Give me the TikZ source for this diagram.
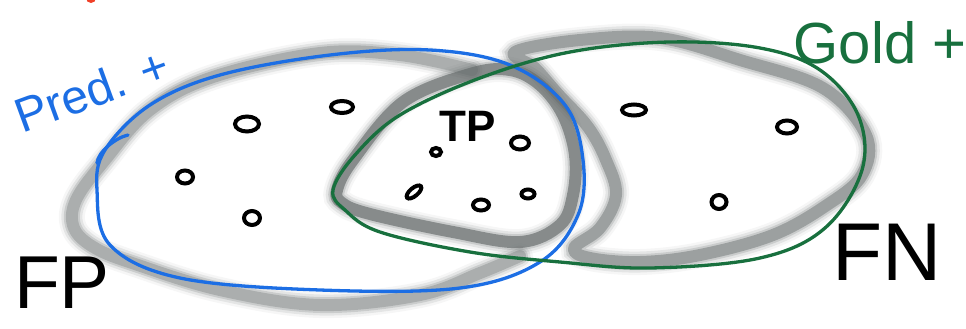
\documentclass[tikz,border=0pt]{standalone}
\usepackage{fontspec}
\setmainfont{Liberation Sans}
\usetikzlibrary{shapes.geometric}
\definecolor{predblue}{RGB}{28,110,228}
\definecolor{goldgreen}{RGB}{24,112,62}
\definecolor{smudgegray}{RGB}{100,106,106}
\definecolor{redmark}{RGB}{240,64,40}
\tikzset{
  smudge/.style={draw=smudgegray, line width=12pt, draw opacity=.45, line cap=round, line join=round,
    preaction={draw=smudgegray, line width=16pt, draw opacity=.2, line cap=round},
    preaction={draw=smudgegray, line width=21pt, draw opacity=.12, line cap=round},
    preaction={draw=smudgegray, line width=26pt, draw opacity=.06, line cap=round}},
  darksmudge/.style={smudge, draw opacity=.66},
  lightsmudge/.style={smudge, draw opacity=.3},
  setline/.style={line width=3.3pt, line cap=round, line join=round},
  pt/.style={draw=black, ellipse, line width=4pt, inner sep=0pt, minimum width=#1},
  pt/.default=13pt,
  lab/.style={inner sep=0pt},
}
\begin{document}
\begin{tikzpicture}[x=1pt,y=-1pt]
\useasboundingbox (0,0) rectangle (966,329);
% red mark cut at top
\fill[redmark] (91,-2) circle (5);
% gray smudged outlines
\draw[lightsmudge] plot[smooth, tension=0.6] coordinates {(472,70) (400,55) (320,53) (213,77) (150,110) (105,160) (76,200) (74,228) (95,248) (135,264) (220,290) (320,305) (420,295) (480,273) (520,256)};
\draw[smudge] plot[smooth cycle, tension=0.6] coordinates {(515,52) (580,40) (660,38) (740,60) (823,88) (866,135) (862,175) (827,205) (773,235) (700,255) (640,262) (590,258) (574,248) (600,228) (616,195) (606,160) (588,127) (557,93) (535,68)};
\draw[darksmudge] plot[smooth cycle, tension=0.6] coordinates {(337,190) (353,160) (403,102) (470,74) (510,70) (540,85) (563,115) (575,155) (573,195) (560,225) (520,242) (453,232) (370,214) (342,203)};
% Pred. + (blue)
\draw[predblue, setline] plot[smooth cycle, tension=0.6] coordinates {(97,190) (110,245) (180,278) (320,290) (460,288) (540,262) (578,215) (583,160) (565,105) (510,65) (430,50) (330,55) (220,75) (150,105) (105,150)};
\draw[predblue, setline] (97,163) .. controls (98,152) and (115,138) .. (128,135);
% Gold + (green)
\draw[goldgreen, setline] plot[smooth cycle, tension=0.6] coordinates {(333,190) (345,210) (380,232) (470,252) (560,262) (650,268) (760,258) (825,228) (862,170) (858,115) (820,70) (760,48) (670,42) (570,52) (480,78) (400,115) (355,155)};
% points
\node[pt=24pt, minimum height=15pt] (p1) at (247,124) {};
\node[pt=22pt, minimum height=12pt] (p2) at (342,107) {};
\node[pt=16pt, minimum height=13pt] (p3) at (185,177) {};
\node[pt=16pt, minimum height=14pt] (p4) at (252,218) {};
\node[pt=10pt, minimum height=8pt] (p5) at (436,152) {};
\node[pt=18pt, minimum height=13pt] (p6) at (520,143) {};
\node[pt=18pt, minimum height=8pt, rotate=40] (p7) at (414,192) {};
\node[pt=16pt, minimum height=11pt] (p8) at (481,205) {};
\node[pt=13pt, minimum height=9pt] (p9) at (528,194) {};
\node[pt=24pt, minimum height=11pt] (p10) at (634,110) {};
\node[pt=20pt, minimum height=13pt] (p11) at (787,127) {};
\node[pt=15pt, minimum height=14pt] (p12) at (719,202) {};
% labels
\node[lab, text=predblue, rotate=20, font=\fontsize{48}{48}\selectfont] (pred) at (92,90) {Pred. +};
\node[lab, text=goldgreen, font=\fontsize{58}{58}\selectfont] (gold) at (880,43) {Gold +};
\node[lab, font=\bfseries\fontsize{44}{44}\selectfont] (tp) at (468,126) {TP};
\node[lab, font=\fontsize{75}{75}\selectfont] (fp) at (62,283) {FP};
\node[lab, font=\fontsize{82}{82}\selectfont] (fn) at (887,252) {FN};
\end{tikzpicture}
\end{document}
